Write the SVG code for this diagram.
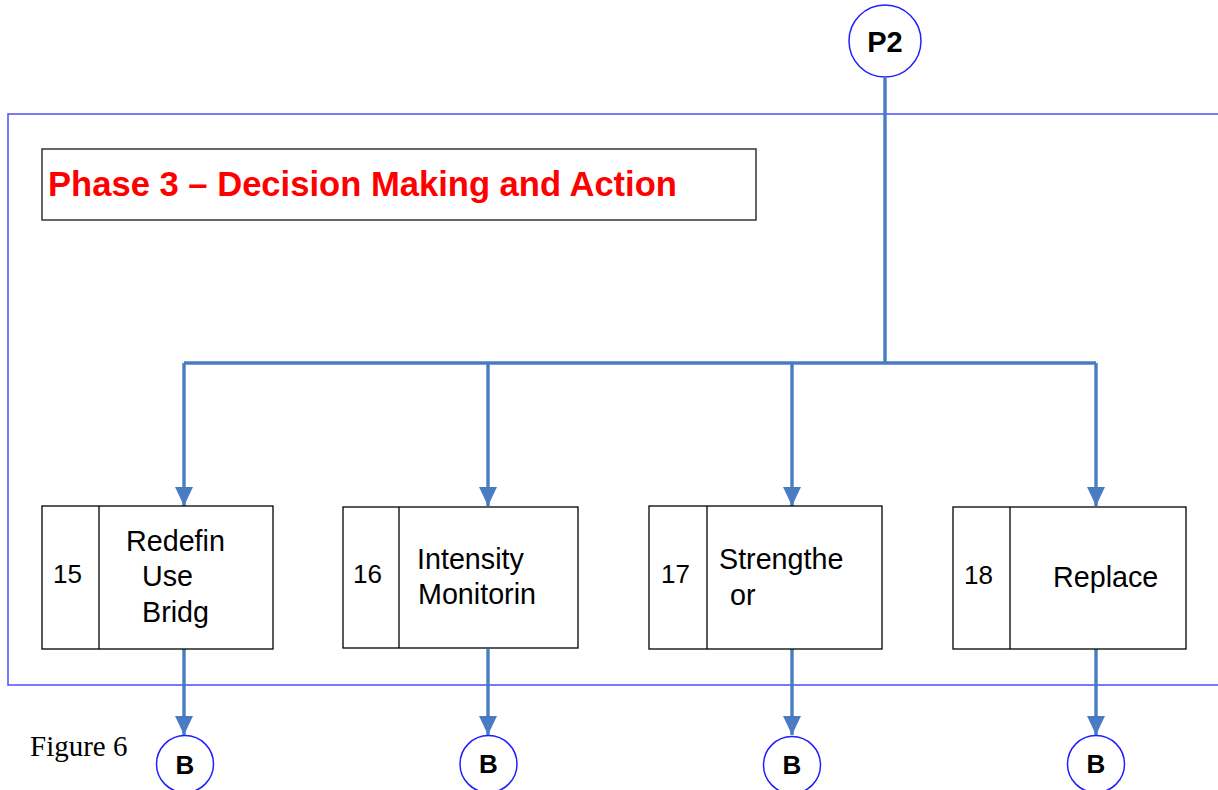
<svg xmlns="http://www.w3.org/2000/svg" width="1218" height="790" viewBox="0 0 1218 790">
  <style>
    .frame { fill: none; stroke: #4d4dff; stroke-width: 1.5; }
    .title-box { fill: #ffffff; stroke: #333333; stroke-width: 1.5; }
    .title { font-family: "Liberation Sans", Arial, sans-serif; font-weight: bold; font-size: 34.6px; fill: #ff0000; }
    .box { fill: #ffffff; stroke: #000000; stroke-width: 1.3; }
    .num { font-family: "Liberation Sans", Arial, sans-serif; font-size: 26px; fill: #000000; }
    .label { font-family: "Liberation Sans", Arial, sans-serif; font-size: 28.7px; fill: #000000; }
    .conn { fill: none; stroke: #4a7cc4; stroke-width: 3.4; }
    .circle { fill: #ffffff; stroke: #1f1fff; stroke-width: 1.5; }
    .ctext { font-family: "Liberation Sans", Arial, sans-serif; font-weight: bold; fill: #000000; text-anchor: middle; }
    .caption { font-family: "Liberation Serif", "Times New Roman", serif; font-size: 29px; fill: #000000; }
  </style>
  <defs>
    <marker id="arrow" markerUnits="userSpaceOnUse" markerWidth="19" markerHeight="19" viewBox="0 0 19 19" refX="19" refY="9.5" orient="auto">
      <path d="M0,0.5 L19,9.5 L0,18.5 Z" fill="#4a7cc4"/>
    </marker>
  </defs>

  <!-- phase frame -->
  <rect class="frame" x="8" y="114" width="1220" height="571"/>

  <!-- phase heading -->
  <g id="title">
    <rect class="title-box" x="42" y="149" width="714" height="71"/>
    <text class="title" x="48" y="196">Phase 3 – Decision Making and Action</text>
  </g>

  <!-- connectors -->
  <g id="connectors">
    <path class="conn" d="M885,78 V363"/>
    <path class="conn" d="M184,363 H1096"/>
    <path class="conn" d="M184,363 V506" marker-end="url(#arrow)"/>
    <path class="conn" d="M488,363 V506" marker-end="url(#arrow)"/>
    <path class="conn" d="M792,363 V506" marker-end="url(#arrow)"/>
    <path class="conn" d="M1096,363 V506" marker-end="url(#arrow)"/>
    <path class="conn" d="M184,649 V735" marker-end="url(#arrow)"/>
    <path class="conn" d="M488,649 V735" marker-end="url(#arrow)"/>
    <path class="conn" d="M792,649 V735" marker-end="url(#arrow)"/>
    <path class="conn" d="M1096,649 V735" marker-end="url(#arrow)"/>
  </g>

  <!-- entry connector -->
  <g id="p2">
    <circle class="circle" cx="885" cy="41" r="36"/>
    <text class="ctext" x="885" y="52" font-size="29">P2</text>
  </g>

  <!-- steps -->
  <g id="step15">
    <rect class="box" x="42" y="506" width="231" height="143"/>
    <line class="box" x1="99" y1="506" x2="99" y2="649"/>
    <text class="num" x="53" y="583">15</text>
    <text class="label" x="126" y="551">Redefin</text>
    <text class="label" x="142" y="586">Use</text>
    <text class="label" x="142" y="622">Bridg</text>
  </g>

  <g id="step16">
    <rect class="box" x="343" y="507" width="235" height="141"/>
    <line class="box" x1="399" y1="507" x2="399" y2="648"/>
    <text class="num" x="353" y="583">16</text>
    <text class="label" x="417" y="569">Intensity</text>
    <text class="label" x="418" y="604">Monitorin</text>
  </g>

  <g id="step17">
    <rect class="box" x="649" y="506" width="233" height="143"/>
    <line class="box" x1="707" y1="506" x2="707" y2="649"/>
    <text class="num" x="661" y="583">17</text>
    <text class="label" x="719" y="569">Strengthe</text>
    <text class="label" x="730" y="605">or</text>
  </g>

  <g id="step18">
    <rect class="box" x="953" y="507" width="233" height="142"/>
    <line class="box" x1="1010" y1="507" x2="1010" y2="649"/>
    <text class="num" x="964" y="584">18</text>
    <text class="label" x="1053" y="587">Replace</text>
  </g>

  <!-- exit connectors -->
  <g id="b1">
    <circle class="circle" cx="185" cy="764" r="28.5"/>
    <text class="ctext" x="185" y="774" font-size="26">B</text>
  </g>
  <g id="b2">
    <circle class="circle" cx="488.5" cy="764" r="28.5"/>
    <text class="ctext" x="488.5" y="773" font-size="26">B</text>
  </g>
  <g id="b3">
    <circle class="circle" cx="792" cy="765" r="28.5"/>
    <text class="ctext" x="792" y="774" font-size="26">B</text>
  </g>
  <g id="b4">
    <circle class="circle" cx="1096" cy="764" r="28.5"/>
    <text class="ctext" x="1096" y="773" font-size="26">B</text>
  </g>

  <text class="caption" x="30" y="756">Figure 6</text>
</svg>
